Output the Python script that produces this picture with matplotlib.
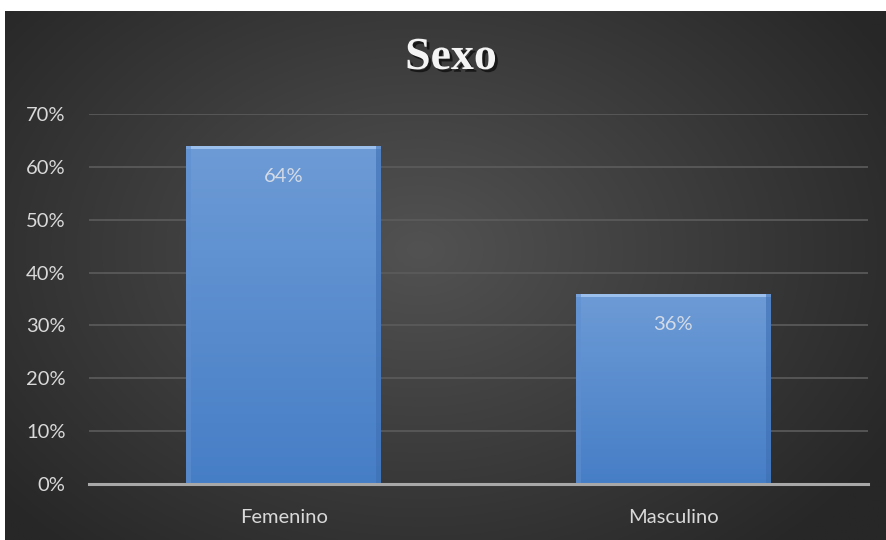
import numpy as np
import matplotlib
matplotlib.use("Agg")
import matplotlib.pyplot as plt
from matplotlib.patches import Rectangle
from matplotlib.ticker import FuncFormatter, MultipleLocator
import matplotlib.patheffects as pe

categories = ["Femenino", "Masculino"]
values = [0.64, 0.36]
labels = ["64%", "36%"]
title = "Sexo"

W, H = 887, 540
fig = plt.figure(figsize=(W / 100, H / 100), dpi=100, facecolor="white")

# background panel with radial gradient
bg = fig.add_axes([5 / W, 0, 881 / W, 529 / H])
bg.set_axis_off()
ny, nx = 300, 500
yy, xx = np.mgrid[0:ny, 0:nx]
cx, cy = nx * 0.47, ny * 0.45
r = np.sqrt(((xx - cx) / (nx * 0.62)) ** 2 + ((yy - cy) / (ny * 0.75)) ** 2)
r = np.clip(r, 0, 1)
light = np.array([0x52, 0x52, 0x52]) / 255
dark = np.array([0x27, 0x27, 0x27]) / 255
img = light[None, None, :] * (1 - r[..., None]) + dark[None, None, :] * r[..., None]
bg.imshow(img, extent=[0, 1, 0, 1], aspect="auto", origin="upper")
bg.set_xlim(0, 1)
bg.set_ylim(0, 1)

ax = fig.add_axes([89 / W, 56 / H, (868 - 89) / W, 370 / H])
ax.set_facecolor("none")
x = np.arange(len(categories))
bars = ax.bar(x, values, width=0.5, color="#5a8ad0", edgecolor="none", zorder=3)

# gradient fill on bars
grad = np.linspace(0, 1, 256)[:, None]
top_c = np.array([0x6d, 0x9b, 0xd6]) / 255
bot_c = np.array([0x46, 0x7e, 0xc6]) / 255
gimg = top_c[None, None, :] * (1 - grad[..., None]) + bot_c[None, None, :] * grad[..., None]
gimg = np.repeat(gimg, 4, axis=1)
for b in bars:
    x0, w, h = b.get_x(), b.get_width(), b.get_height()
    im = ax.imshow(gimg, extent=[x0, x0 + w, 0, h], aspect="auto", origin="upper", zorder=4)
    im.set_clip_path(b)
    # bevel highlights
    ax.add_patch(Rectangle((x0, h - 0.007), w, 0.007, facecolor="#9cc0ee", edgecolor="none", zorder=5))
    ax.add_patch(Rectangle((x0, 0), 0.012, h, facecolor="#5f8fd0", edgecolor="none", alpha=0.6, zorder=5))
    ax.add_patch(Rectangle((x0 + w - 0.012, 0), 0.012, h, facecolor="#3e6fb3", edgecolor="none", alpha=0.6, zorder=5))

ax.set_xlim(-0.5, len(categories) - 0.5)
ax.set_ylim(0, 0.7)
ax.yaxis.set_major_locator(MultipleLocator(0.1))
ax.yaxis.set_major_formatter(FuncFormatter(lambda v, p: f"{v * 100:.0f}%"))
ax.grid(axis="y", color="#5c5c5c", linewidth=1.2, zorder=1)
ax.set_axisbelow(True)
for s in ["top", "right", "left"]:
    ax.spines[s].set_visible(False)
ax.spines["bottom"].set_color("#a8a8a8")
ax.spines["bottom"].set_linewidth(2.2)
ax.spines["bottom"].set_zorder(6)
ax.tick_params(axis="both", length=0, colors="#d9d9d9", labelsize=14.5)
ax.tick_params(axis="y", pad=17)
ax.tick_params(axis="x", pad=18)
ax.set_xticks(x)
ax.set_xticklabels(categories)
for t in ax.get_xticklabels() + ax.get_yticklabels():
    t.set_fontfamily("Lato")

for xi, v, lab in zip(x, values, labels):
    ax.annotate(lab, (xi, v), xytext=(0, -22), textcoords="offset points", ha="center", va="center",
                color="#d4dbe6", fontsize=14.5, family="Lato", zorder=7)

fig.text(451 / W, 1 - 58 / H, title, ha="center", va="center", color="#f4f4f4", fontsize=33,
         fontweight="bold", family="Liberation Serif",
         path_effects=[pe.withSimplePatchShadow(offset=(2, -2), shadow_rgbFace="black", alpha=0.6)])

fig.savefig("out.png", dpi=100, facecolor="white")
